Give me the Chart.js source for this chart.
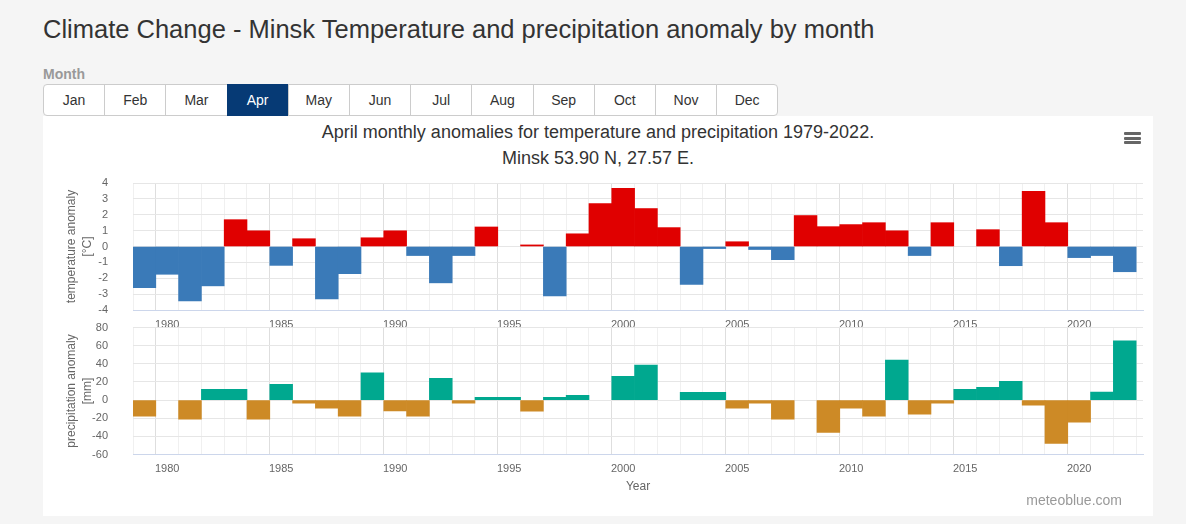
<!DOCTYPE html>
<html>
<head>
<meta charset="utf-8">
<title>Minsk April anomalies</title>
<script src="https://cdn.jsdelivr.net/npm/chart.js@4.4.1/dist/chart.umd.min.js"></script>
<style>
    body {
        margin: 0;
        width: 1186px;
        height: 524px;
        overflow: hidden;
        position: relative;
        background: #f5f5f5;
        font-family: 'Liberation Sans', Arial, Helvetica, sans-serif;
    }
    h1 {
        position: absolute;
        left: 43px;
        top: 13px;
        margin: 0;
        font-size: 25.5px;
        line-height: 32px;
        font-weight: normal;
        color: #333;
        white-space: nowrap;
    }
    .month-label {
        position: absolute;
        left: 43px;
        top: 66px;
        font-size: 14px;
        font-weight: bold;
        color: #999;
    }
    .months {
        position: absolute;
        left: 43px;
        top: 84px;
        display: flex;
    }
    .months div {
        box-sizing: border-box;
        width: 62.2px;
        height: 32px;
        line-height: 30px;
        text-align: center;
        font-size: 14px;
        color: #333;
        background: #fff;
        border: 1px solid #ccc;
        margin-left: -1px;
    }
    .months div:first-child { margin-left: 0; border-radius: 4px 0 0 4px; }
    .months div:last-child { border-radius: 0 4px 4px 0; }
    .months div.active { background: #063a75; border-color: #063a75; color: #fff; }
    .box {
        position: absolute;
        left: 43px;
        top: 116px;
        width: 1110px;
        height: 400px;
        background: #fff;
    }
    .chart-title {
        position: absolute;
        left: 0;
        width: 1110px;
        text-align: center;
        font-size: 18px;
        line-height: 26px;
        color: #333;
    }
    .menu {
        position: absolute;
        left: 1081px;
        top: 16px;
        width: 17px;
    }
    .menu span {
        display: block;
        height: 3px;
        margin-bottom: 1.5px;
        background: #666;
        border-radius: 1px;
    }
    .wrap { position: absolute; left: 0; width: 1110px; }
    .credits {
        position: absolute;
        right: 31px;
        top: 376px;
        font-size: 14px;
        color: #999;
    }
</style>
</head>
<body>
<h1>Climate Change - Minsk Temperature and precipitation anomaly by month</h1>
<div class="month-label">Month</div>
<div class="months">
    <div>Jan</div><div>Feb</div><div>Mar</div><div class="active">Apr</div>
    <div>May</div><div>Jun</div><div>Jul</div><div>Aug</div>
    <div>Sep</div><div>Oct</div><div>Nov</div><div>Dec</div>
</div>
<div class="box">
    <div class="chart-title" style="top:3px">April monthly anomalies for temperature and precipitation 1979-2022.</div>
    <div class="chart-title" style="top:29px">Minsk 53.90 N, 27.57 E.</div>
    <div class="menu"><span></span><span></span><span></span></div>
    <div class="wrap" style="top:0; height:216px"><canvas id="tempChart"></canvas></div>
    <div class="wrap" style="top:202px; height:198px"><canvas id="precipChart"></canvas></div>
    <div class="credits">meteoblue.com</div>
</div>

<script>
// April values, one per year
const years = [
    1979, 1980, 1981, 1982, 1983, 1984, 1985, 1986, 1987, 1988, 1989,
    1990, 1991, 1992, 1993, 1994, 1995, 1996, 1997, 1998, 1999, 2000,
    2001, 2002, 2003, 2004, 2005, 2006, 2007, 2008, 2009, 2010, 2011,
    2012, 2013, 2014, 2015, 2016, 2017, 2018, 2019, 2020, 2021, 2022
];
const tempAnomaly = [
    -2.6, -1.75, -3.43, -2.48, 1.69, 0.99, -1.19, 0.49, -3.3, -1.71, 0.55,
    0.99, -0.57, -2.29, -0.57, 1.23, 0, 0.1, -3.11, 0.8, 2.71, 3.66,
    2.39, 1.19, -2.39, -0.13, 0.3, -0.19, -0.83, 1.95, 1.25, 1.38, 1.5,
    0.99, -0.57, 1.5, 0, 1.06, -1.21, 3.47, 1.5, -0.7, -0.57, -1.59
];
const precipAnomaly = [
    -17.8, 0, -21.1, 11.9, 11.9, -21.1, 17.4, -3.3, -8.9, -17.8, 30,
    -11.9, -17.8, 24, -3.3, 3, 3, -12.2, 3, 5.2, 0, 26.3,
    38.5, 0, 8.5, 8.5, -8.9, -3.3, -21.1, 0, -35.6, -8.9, -17.8,
    44.1, -15.6, -3.3, 11.9, 14.1, 20.7, -5.6, -47.8, -24.4, 8.9, 65.2
];
const yearTickLabels = [1980, 1985, 1990, 1995, 2000, 2005, 2010, 2015, 2020];
const tempTicks = [-4, -3, -2, -1, 0, 1, 2, 3, 4];
const precipTicks = [-60, -40, -20, 0, 20, 40, 60, 80];

const tickFont = { family: "'Liberation Sans', Arial, sans-serif", size: 11 };
const titleFont = { family: "'Liberation Sans', Arial, sans-serif", size: 12, lineHeight: 1.3 };

document.addEventListener('DOMContentLoaded', function () {
    initAnomalyChart(document.getElementById('tempChart'), {
        values: tempAnomaly,
        positive: '#e00000',
        negative: '#3a7ab8',
        ticks: tempTicks,
        yTitle: ['temperature anomaly', '[°C]'],
        paddingTop: 67,
        xHeight: 22,
        xTitle: null
    });
    initAnomalyChart(document.getElementById('precipChart'), {
        values: precipAnomaly,
        positive: '#00a88f',
        negative: '#cd8a26',
        ticks: precipTicks,
        yTitle: ['precipitation anomaly', '[mm]'],
        paddingTop: 9.5,
        xHeight: 61.5,
        xTitle: 'Year'
    });
});

function initAnomalyChart(canvas, cfg) {
    const ctx = canvas.getContext('2d');

    new Chart(ctx, {
        type: 'bar',
        data: {
            labels: years,
            datasets: [{
                data: cfg.values,
                backgroundColor: function (c) {
                    if (c.raw === 0) return 'rgba(0,0,0,0)';
                    return c.raw > 0 ? cfg.positive : cfg.negative;
                },
                borderWidth: 0,
                barPercentage: 1,
                categoryPercentage: 1
            }]
        },
        options: {
            responsive: true,
            maintainAspectRatio: false,
            animation: false,
            layout: {
                padding: { top: cfg.paddingTop, right: 10, left: 0, bottom: 0 }
            },
            plugins: {
                legend: { display: false },
                tooltip: { enabled: true }
            },
            scales: {
                x: {
                    type: 'linear',
                    offset: false,
                    min: 1978.5,
                    max: 2022.8,
                    afterBuildTicks: function (scale) {
                        scale.ticks = years.map(v => ({ value: v }));
                    },
                    afterFit: function (scale) {
                        scale.height = cfg.xHeight;
                        scale.paddingLeft = 0;
                        scale.paddingRight = 0;
                    },
                    ticks: {
                        autoSkip: false,
                        maxRotation: 0,
                        padding: 8,
                        color: '#666',
                        font: tickFont,
                        callback: function (value) {
                            return yearTickLabels.includes(value) ? String(value) : '';
                        }
                    },
                    grid: {
                        drawTicks: false,
                        color: function (c) {
                            return c.tick && yearTickLabels.includes(c.tick.value) ? '#dedede' : '#f0f0f0';
                        }
                    },
                    border: { display: true, color: '#ccd6eb' },
                    title: {
                        display: !!cfg.xTitle,
                        text: cfg.xTitle || '',
                        color: '#666',
                        font: titleFont,
                        padding: { top: 0, bottom: 22 }
                    }
                },
                y: {
                    min: cfg.ticks[0],
                    max: cfg.ticks[cfg.ticks.length - 1],
                    afterBuildTicks: function (scale) {
                        scale.ticks = cfg.ticks.map(v => ({ value: v }));
                    },
                    afterFit: function (scale) {
                        // keep the tick gap from pushing the plot area in
                        scale.width = 90;
                        scale.paddingTop = 0;
                        scale.paddingBottom = 0;
                    },
                    ticks: {
                        autoSkip: false,
                        padding: 25,
                        color: '#666',
                        font: tickFont
                    },
                    grid: {
                        drawTicks: false,
                        color: '#e6e6e6'
                    },
                    border: { display: false },
                    title: {
                        display: true,
                        text: cfg.yTitle,
                        color: '#666',
                        font: titleFont,
                        padding: { top: 21, bottom: 0 }
                    }
                }
            }
        }
    });
}
</script>
</body>
</html>
